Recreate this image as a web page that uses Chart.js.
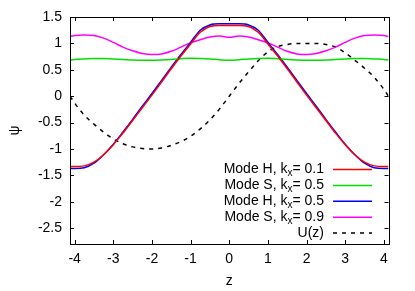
<!DOCTYPE html>
<html>
<head>
<meta charset="utf-8">
<script src="https://cdn.jsdelivr.net/npm/chart.js@4.4.0/dist/chart.umd.min.js"></script>
<style>
  html, body { margin: 0; padding: 0; background: #ffffff; }
  #wrap { width: 415px; height: 291px; }
</style>
</head>
<body>
<div id="wrap"><canvas id="chart" width="415" height="291"></canvas></div>
<script>
// valores
const zVals = [-4.12, -4, -3.75, -3.5, -3.25, -3, -2.75, -2.5, -2.25, -2, -1.75, -1.5, -1.25, -1, -0.75, -0.5, -0.25,
    0, 0.25, 0.5, 0.75, 1, 1.25, 1.5, 1.75, 2, 2.25, 2.5, 2.75, 3, 3.25, 3.5, 3.75, 4, 4.12];

const modeH01 = [-1.33, -1.33, -1.32, -1.25, -1.11, -0.92, -0.70, -0.46, -0.22, 0.02, 0.27, 0.52, 0.76, 0.99, 1.21, 1.32, 1.34,
    1.34, 1.34, 1.32, 1.21, 0.99, 0.76, 0.52, 0.27, 0.02, -0.22, -0.46, -0.70, -0.92, -1.11, -1.25, -1.32, -1.33, -1.33];
const modeS05 = [0.685, 0.695, 0.705, 0.715, 0.715, 0.705, 0.695, 0.685, 0.68, 0.68, 0.685, 0.695, 0.71, 0.72, 0.715, 0.705, 0.69,
    0.68, 0.69, 0.705, 0.715, 0.72, 0.71, 0.695, 0.685, 0.68, 0.68, 0.685, 0.695, 0.705, 0.715, 0.715, 0.705, 0.695, 0.685];
const modeH05 = [-1.37, -1.37, -1.355, -1.27, -1.11, -0.91, -0.68, -0.44, -0.19, 0.05, 0.30, 0.55, 0.79, 1.02, 1.25, 1.35, 1.37,
    1.37, 1.37, 1.35, 1.25, 1.02, 0.79, 0.55, 0.30, 0.05, -0.19, -0.44, -0.68, -0.91, -1.11, -1.27, -1.355, -1.37, -1.37];
const modeS09 = [1.13, 1.15, 1.16, 1.15, 1.10, 1.02, 0.93, 0.86, 0.81, 0.79, 0.80, 0.85, 0.93, 1.01, 1.07, 1.12, 1.14,
    1.115, 1.14, 1.12, 1.07, 1.01, 0.93, 0.85, 0.80, 0.79, 0.81, 0.86, 0.93, 1.02, 1.10, 1.15, 1.16, 1.15, 1.13];
const potU = [0, -0.13, -0.36, -0.53, -0.68, -0.81, -0.90, -0.96, -0.99, -1.0, -0.98, -0.93, -0.86, -0.76, -0.62, -0.45, -0.24,
    0, 0.24, 0.46, 0.67, 0.84, 0.94, 0.98, 1.0, 1.0, 1.0, 0.98, 0.93, 0.82, 0.68, 0.53, 0.36, 0.13, 0];

const xTicks = [-4, -3, -2, -1, 0, 1, 2, 3, 4];
const yTicks = [-2.5, -2, -1.5, -1, -0.5, 0, 0.5, 1, 1.5];

// etiquetas de la leyenda: texto, subindice, resto
const legendParts = [
    ['Mode H, k', 'x', '= 0.1'],
    ['Mode S, k', 'x', '= 0.5'],
    ['Mode H, k', 'x', '= 0.5'],
    ['Mode S, k', 'x', '= 0.9'],
    ['U(z)', '', '']
];

const FONT = '"Liberation Sans", Arial, sans-serif';

function toPoints(values) {
    return zVals.map((z, i) => ({ x: z, y: values[i] }));
}

function makeSet(label, values, color, dash) {
    return {
        label: label,
        data: toPoints(values),
        borderColor: color,
        backgroundColor: color,
        borderWidth: 1.5,
        borderDash: dash || [],
        pointRadius: 0,
        fill: false,
        cubicInterpolationMode: 'monotone'
    };
}

const datasets = [
    makeSet('Mode H, kx= 0.1', modeH01, '#ff0000'),
    makeSet('Mode S, kx= 0.5', modeS05, '#00e000'),
    makeSet('Mode H, kx= 0.5', modeH05, '#0000ff'),
    makeSet('Mode S, kx= 0.9', modeS09, '#ff00ff'),
    makeSet('U(z)', potU, '#000000', [4, 5])
];

// marco con marcas hacia dentro, estilo gnuplot
const framePlugin = {
    id: 'frame',
    afterDatasetsDraw(chart) {
        const { ctx, chartArea: a, scales } = chart;
        const tl = 4;
        ctx.save();
        ctx.strokeStyle = '#000000';
        ctx.lineWidth = 1;
        ctx.beginPath();
        xTicks.forEach(v => {
            const px = Math.round(scales.x.getPixelForValue(v)) + 0.5;
            ctx.moveTo(px, a.bottom); ctx.lineTo(px, a.bottom - tl);
            ctx.moveTo(px, a.top); ctx.lineTo(px, a.top + tl);
        });
        yTicks.forEach(v => {
            const py = Math.round(scales.y.getPixelForValue(v)) + 0.5;
            ctx.moveTo(a.left, py); ctx.lineTo(a.left + tl, py);
            ctx.moveTo(a.right, py); ctx.lineTo(a.right - tl, py);
        });
        ctx.stroke();
        ctx.strokeRect(Math.round(a.left) + 0.5, Math.round(a.top) + 0.5,
            Math.round(a.right - a.left), Math.round(a.bottom - a.top));
        ctx.restore();
    },
    afterDraw(chart) {
        const ctx = chart.ctx;
        const textRight = 324;
        const lineX0 = 333, lineX1 = 372;
        const y0 = 169.5, step = 15.9;
        ctx.save();
        legendParts.forEach((parts, i) => {
            const y = y0 + i * step;
            const ds = chart.data.datasets[i];
            ctx.font = '14px ' + FONT;
            const w0 = ctx.measureText(parts[0]).width;
            const w2 = ctx.measureText(parts[2]).width;
            ctx.font = '10px ' + FONT;
            const w1 = ctx.measureText(parts[1]).width;
            let x = textRight - w0 - w1 - w2;
            ctx.fillStyle = '#000000';
            ctx.textBaseline = 'middle';
            ctx.textAlign = 'left';
            ctx.font = '14px ' + FONT;
            ctx.fillText(parts[0], x, y);
            x += w0;
            if (parts[1]) {
                ctx.font = '10px ' + FONT;
                ctx.fillText(parts[1], x, y + 4);
                x += w1;
            }
            ctx.font = '14px ' + FONT;
            ctx.fillText(parts[2], x, y);
            // muestra de linea
            ctx.strokeStyle = ds.borderColor;
            ctx.lineWidth = 1.5;
            ctx.setLineDash(ds.borderDash);
            ctx.beginPath();
            ctx.moveTo(lineX0, y);
            ctx.lineTo(lineX1, y);
            ctx.stroke();
            ctx.setLineDash([]);
        });
        ctx.restore();
    }
};

const ctx = document.getElementById('chart');
new Chart(ctx, {
    type: 'line',
    data: { datasets: datasets },
    options: {
        responsive: false,
        animation: false,
        devicePixelRatio: 1,
        layout: { padding: { top: 17, right: 26.5, left: 0, bottom: 0 } },
        plugins: {
            legend: { display: false },
            tooltip: { enabled: false }
        },
        scales: {
            x: {
                type: 'linear',
                min: -4.12,
                max: 4.12,
                afterBuildTicks: scale => { scale.ticks = xTicks.map(v => ({ value: v })); },
                afterFit: scale => { scale.height = 47; },
                grid: { display: false, drawTicks: false },
                border: { display: false },
                ticks: {
                    color: '#000000',
                    font: { family: FONT, size: 14 },
                    padding: 7,
                    maxRotation: 0,
                    autoSkip: false,
                    callback: v => String(v)
                },
                title: {
                    display: true,
                    text: 'z',
                    color: '#000000',
                    font: { family: FONT, size: 14 },
                    padding: { top: 0, bottom: 1 }
                }
            },
            y: {
                min: -2.8,
                max: 1.5,
                afterBuildTicks: scale => { scale.ticks = yTicks.map(v => ({ value: v })); },
                afterFit: scale => { scale.width = 70; },
                grid: { display: false, drawTicks: false },
                border: { display: false },
                ticks: {
                    color: '#000000',
                    font: { family: FONT, size: 14 },
                    padding: 8,
                    autoSkip: false,
                    callback: v => String(v)
                },
                title: {
                    display: true,
                    text: 'ψ',
                    color: '#000000',
                    font: { family: FONT, size: 14 },
                    padding: { top: 6.5, bottom: 0 }
                }
            }
        }
    },
    plugins: [framePlugin]
});
</script>
</body>
</html>
